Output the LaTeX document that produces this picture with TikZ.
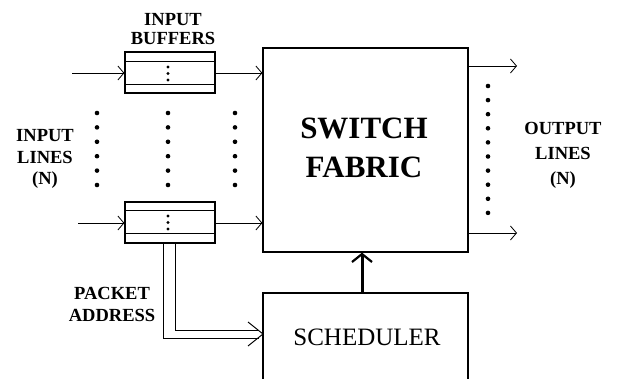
\documentclass[tikz,border=0pt]{standalone}
\usepackage{fontspec}
\setmainfont{Liberation Serif}
\usetikzlibrary{arrows.meta,calc}
\tikzset{
  box/.style={draw,line width=1.2pt,inner sep=0pt},
  bufbox/.style={box,minimum width=90pt,minimum height=41pt},
  arr/.style={line width=0.8pt,-{Straight Barb[length=6pt,width=14pt,line width=0.8pt]}},
  lbl/.style={align=center,inner sep=0pt},
  bigdot/.style={fill=black},
}
\begin{document}
\begin{tikzpicture}[x=1pt,y=-1pt]
\useasboundingbox (0,0) rectangle (618,379);
% boxes
\node[box,minimum width=205pt,minimum height=204pt] (sw) at (365.5,150) {};
\node[box,minimum width=205pt,minimum height=127pt] (sched) at (365.5,356.5) {};
\node[bufbox] (b1) at (170,72.5) {};
\node[bufbox] (b2) at (170,222.5) {};
% inner lines of buffers
\draw[line width=1pt] ($(b1.north west)+(0,10)$) -- ($(b1.north east)+(0,10)$);
\draw[line width=1pt] ($(b1.south west)+(0,-9)$) -- ($(b1.south east)+(0,-9)$);
\draw[line width=1pt] ($(b2.north west)+(0,9)$) -- ($(b2.north east)+(0,9)$);
\draw[line width=1pt] ($(b2.south west)+(0,-10)$) -- ($(b2.south east)+(0,-10)$);
% dots in buffers
\foreach \y in {67,73.5,80} \fill (168,\y) circle[radius=1.7pt];
\foreach \y in {216,222.5,229} \fill (168,\y) circle[radius=1.7pt];
% vertical dots between buffers
\foreach \x in {97,168,235}
  \foreach \y in {113,127.4,141.8,156.2,170.6,185} \fill[bigdot] (\x,\y) circle[radius=2.3pt];
% output dots
\foreach \i in {0,...,9} \fill[bigdot] (488,86+14.1*\i) circle[radius=2.3pt];
% texts
\node[lbl,font=\bfseries\fontsize{31}{39}\selectfont] (swt) at (364,148) {SWITCH\\FABRIC};
\node[lbl,font=\fontsize{25}{30}\selectfont] (scht) at (367,337) {SCHEDULER};
\node[lbl,font=\bfseries\fontsize{18.5}{19.5}\selectfont] (ib) at (173,29) {INPUT\\BUFFERS};
\node[lbl,font=\bfseries\fontsize{18.5}{21.5}\selectfont] (il) at (45,159) {INPUT\\LINES\\(N)};
\node[lbl,font=\bfseries\fontsize{18.5}{25}\selectfont] (ol) at (563,155) {OUTPUT\\LINES\\(N)};
\node[lbl,font=\bfseries\fontsize{18.5}{22}\selectfont] (pa) at (112,304) {PACKET\\ADDRESS};
% input arrows
\coordinate (in1) at (72,73);
\coordinate (in2) at (78,223);
\draw[arr] (in1) -- (in1 -| b1.west);
\draw[arr] (in2) -- (in2 -| b2.west);
\draw[arr] (in1 -| b1.east) -- (in1 -| sw.west);
\draw[arr] (in2 -| b2.east) -- (in2 -| sw.west);
% output arrows
\coordinate (o1) at (517,66);
\coordinate (o2) at (517,233);
\draw[arr] (o1 -| sw.east) -- (o1);
\draw[arr] (o2 -| sw.east) -- (o2);
% scheduler to switch fabric
\draw[line width=3pt,-{Straight Barb[length=8pt,width=20pt,line width=2.2pt]}] (sched.north -| 362,0) -- (sw.south -| 362,0);
% packet address double line
\coordinate (tip) at (263,334);
\draw[line width=1pt] ($(b2.south)+(-7,0)$) |- ($(tip)+(-4,4)$);
\draw[line width=1pt] ($(b2.south)+(5,0)$) |- ($(tip)+(-4,-4)$);
\draw[line width=1pt] ($(tip)+(-15,-12)$) -- (tip) -- ($(tip)+(-15,12)$);
\end{tikzpicture}
\end{document}
